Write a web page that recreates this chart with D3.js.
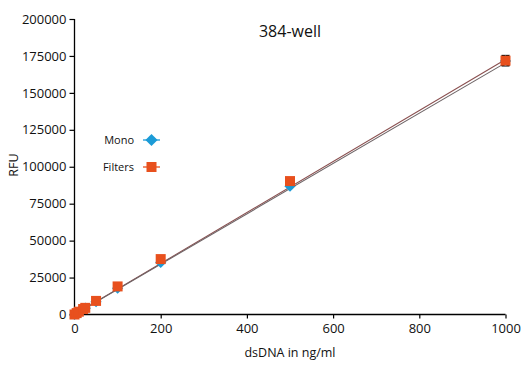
<!DOCTYPE html>
<html><head><meta charset="utf-8">
<script src="https://cdn.jsdelivr.net/npm/d3@7/dist/d3.min.js"></script>
<style>body{margin:0;background:#fff}svg{display:block;font-family:"Open Sans","Liberation Sans",sans-serif}</style>
</head><body><svg id="c" width="532" height="366"></svg>
<script>
const concentrations = [0, 5, 10, 20, 25, 50, 100, 200, 500, 1000];
const monoValues = [0, 900, 1800, 3500, 4300, 8700, 17800, 35200, 86800, 171600];
const filtersValues = [0, 950, 1900, 3700, 4500, 9200, 19000, 37500, 90300, 171800];
const monoError1000 = 3000;
const filtersError1000 = 3500;
const monoFit = [0, 170300];   // value at x=0 and x=1000
const filtersFit = [0, 172600];
const xTicks = [0, 200, 400, 600, 800, 1000];
const yTicks = [0, 25000, 50000, 75000, 100000, 125000, 150000, 175000, 200000];
const seriesNames = ["Mono", "Filters"];

const svg = d3.select("#c");
const x = d3.scaleLinear().domain([0, 1000]).range([74.5, 505.5]);
const y = d3.scaleLinear().domain([0, 200000]).range([314.5, 19]);

const ax = svg.append("g").attr("transform", "translate(0,314.5)")
  .call(d3.axisBottom(x).tickValues(xTicks).tickSize(4).tickPadding(5).tickFormat(d3.format("d")));
const ay = svg.append("g").attr("transform", "translate(74.5,0)")
  .call(d3.axisLeft(y).tickValues(yTicks).tickSize(5).tickPadding(3).tickFormat(d3.format("d")));
[ax, ay].forEach(a => {
  a.select(".domain").attr("stroke", "#000").attr("stroke-width", 1.3);
  a.selectAll(".tick line").attr("stroke", "#000").attr("stroke-width", 1.2);
  a.selectAll("text").attr("font-size", 13).attr("fill", "#111").attr("font-family", "'Open Sans',sans-serif");
});
ax.select(".domain").attr("d", "M74.5,0H505.5");
ay.select(".domain").attr("d", "M0,314.5V19");

// fit lines
const fits = [{v: filtersFit, c: "#8a5050"}, {v: monoFit, c: "#6e6466"}];
fits.forEach(f => {
  svg.append("line").attr("x1", x(0)).attr("y1", y(f.v[0])).attr("x2", x(1000)).attr("y2", y(f.v[1]))
    .attr("stroke", f.c).attr("stroke-width", 1.1);
});

const monoData = concentrations.map((c, i) => ({c, v: monoValues[i]}));
const filtData = concentrations.map((c, i) => ({c, v: filtersValues[i]}));

// error bars at 1000
[[monoValues[9], monoError1000], [filtersValues[9], filtersError1000]].forEach(([v, e]) => {
  const g = svg.append("g").attr("stroke", "#000").attr("stroke-width", 1.3);
  g.append("line").attr("x1", x(1000)).attr("x2", x(1000)).attr("y1", y(v - e)).attr("y2", y(v + e));
  g.append("line").attr("x1", x(1000) - 4).attr("x2", x(1000) + 4).attr("y1", y(v - e)).attr("y2", y(v - e));
  g.append("line").attr("x1", x(1000) - 4).attr("x2", x(1000) + 4).attr("y1", y(v + e)).attr("y2", y(v + e));
});

const blue = "#1b9bd7", orange = "#e8501d";
const diamond = d3.symbol().type(d3.symbolDiamond2).size(80);
svg.append("g").selectAll("path").data(monoData).join("path")
  .attr("d", diamond).attr("transform", d => `translate(${x(d.c)},${y(d.v)})`)
  .attr("fill", blue);
svg.append("g").selectAll("rect").data(filtData).join("rect")
  .attr("x", d => x(d.c) - 5).attr("y", d => y(d.v) - 5).attr("width", 10).attr("height", 10)
  .attr("fill", orange);

// legend
const leg = svg.append("g").attr("font-size", 11).attr("fill", "#111");
[[seriesNames[0], 140, "mono"], [seriesNames[1], 167, "filt"]].forEach(([name, ly, k]) => {
  leg.append("text").attr("x", 134).attr("y", ly + 4).attr("text-anchor", "end").text(name);
  leg.append("line").attr("x1", 143).attr("x2", 160).attr("y1", ly).attr("y2", ly)
    .attr("stroke", k === "mono" ? blue : orange).attr("stroke-width", 1.3);
  if (k === "mono") leg.append("path").attr("d", d3.symbol().type(d3.symbolDiamond2).size(95)())
    .attr("transform", `translate(151.5,${ly})`).attr("fill", blue);
  else leg.append("rect").attr("x", 146.5).attr("y", ly - 5).attr("width", 10).attr("height", 10).attr("fill", orange);
});

svg.append("text").attr("x", 290).attr("y", 37).attr("text-anchor", "middle")
  .attr("font-size", 16).attr("fill", "#111").text("384-well");
svg.append("text").attr("x", 290).attr("y", 357).attr("text-anchor", "middle")
  .attr("font-size", 12.5).attr("fill", "#111").text("dsDNA in ng/ml");
svg.append("text").attr("transform", "translate(18,165) rotate(-90)").attr("text-anchor", "middle")
  .attr("font-size", 12.5).attr("fill", "#111").text("RFU");
</script></body></html>
